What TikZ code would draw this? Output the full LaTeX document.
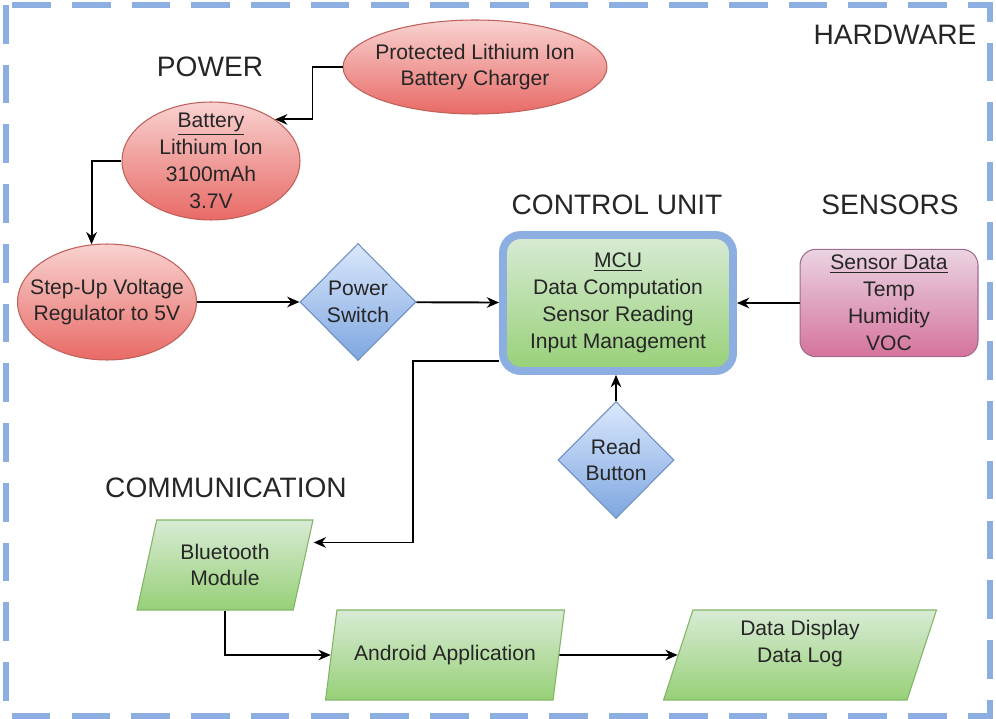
\documentclass[tikz,border=0pt]{standalone}
\usepackage{fontspec}
\setmainfont{Liberation Sans}
\usepackage{tikz}
\usetikzlibrary{shapes.geometric,arrows.meta}

\definecolor{redtop}{HTML}{F8D2D0}
\definecolor{redbot}{HTML}{E86A66}
\definecolor{redline}{HTML}{C0605A}
\definecolor{bluetop}{HTML}{DAE8FC}
\definecolor{bluebot}{HTML}{7EA6E0}
\definecolor{blueline}{HTML}{6C8EBF}
\definecolor{greentop}{HTML}{D8EBD5}
\definecolor{greenbot}{HTML}{97D077}
\definecolor{greenline}{HTML}{82B366}
\definecolor{pinktop}{HTML}{EAD4E2}
\definecolor{pinkbot}{HTML}{D5739D}
\definecolor{pinkline}{HTML}{A06A8C}
\definecolor{hwblue}{HTML}{8DAEE0}

\begin{document}
\begin{tikzpicture}[x=0.02cm, y=-0.02cm, >={Stealth[length=7pt,width=6pt]}, line width=1.1pt,
    font=\fontsize{12}{15.3}\selectfont, text=black!85,
    title/.style={font=\fontsize{16}{19}\selectfont},
    red ellipse/.style={ellipse, draw=redline, line width=0.6pt, top color=redtop, bottom color=redbot, inner xsep=-14pt, inner ysep=-10pt, align=center},
    blue diamond/.style={diamond, draw=blueline, line width=0.6pt, top color=bluetop, bottom color=bluebot, aspect=1, inner sep=-4pt, minimum width=2.32cm, minimum height=2.34cm, align=center},
    green para/.style={trapezium, trapezium left angle=70, trapezium right angle=110, trapezium stretches body, draw=greenline, line width=0.6pt, top color=greentop, bottom color=greenbot, minimum height=1.8cm, align=center},
    mcu box/.style={rectangle, rounded corners=10pt, draw=hwblue, line width=4.5pt, top color=greentop, bottom color=greenbot, minimum width=4.6cm, minimum height=2.72cm, align=center},
    sensor box/.style={rectangle, rounded corners=9pt, draw=pinkline, line width=0.6pt, top color=pinktop, bottom color=pinkbot, minimum width=3.56cm, minimum height=2.12cm, align=center},
    hw border/.style={draw=hwblue, line width=3.4pt, dash pattern=on 22pt off 12pt}]
    \useasboundingbox (0,0) rectangle (996,719);
    % dashed hardware frame
    \draw [hw border] (6,5) rectangle (990,716);
    \node at (895,35) [title] (hardware) {HARDWARE};
    \node at (210,67) [title] (power) {POWER};
    \node at (617,205) [title] (control unit) {CONTROL UNIT};
    \node at (890,205) [title] (sensors) {SENSORS};
    \node at (226,488) [title] (communication) {COMMUNICATION};

    \node at (475,67) [red ellipse, minimum width=5.28cm, minimum height=1.88cm] (charger) {Protected Lithium Ion\\Battery Charger};
    \node at (211,161) [red ellipse, minimum width=3.56cm, minimum height=2.36cm] (battery) {\underline{Battery}\\Lithium Ion\\3100mAh\\3.7V};
    \node at (107,302) [red ellipse, minimum width=3.58cm, minimum height=2.32cm] (regulator) {Step-Up Voltage\\Regulator to 5V};
    \node at (358,302) [blue diamond] (power switch) {Power\\Switch};
    \node at (618,303) [mcu box] (mcu) {\underline{MCU}\\Data Computation\\Sensor Reading\\Input Management};
    \node at (889,303) [sensor box] (sensor data) {\underline{Sensor Data}\\Temp\\Humidity\\VOC};
    \node at (616,460) [blue diamond] (read button) {Read\\Button};
    \node at (225,565) [green para, minimum width=3.52cm] (bluetooth) {Bluetooth\\Module};
    \node at (445,655) [green para, minimum width=4.78cm] (android) {Android Application};
    \node at (800,655) [green para, minimum width=5.46cm] (data display) {Data Display\\Data Log\\\mbox{}};

    % power chain
    \draw [->] (charger.west) -- ++(-30,0) |- (battery.33);
    \draw [->] (battery.west) -| (regulator.105);
    \draw [->] (regulator) -- (power switch);
    \draw [->] (power switch) -- (mcu);
    % inputs to the mcu
    \draw [->] (sensor data) -- (mcu);
    \draw [->] (read button.north) -- (read button.north |- mcu.south);
    % mcu out to bluetooth, then on to the phone
    \draw [->] ([yshift=0.28cm]mcu.south west) -- ++(-86,0) |- ([yshift=-0.46cm]bluetooth.top right corner);
    \draw [->] (bluetooth.south) |- (android);
    \draw [->] (android) -- (data display);
\end{tikzpicture}
\end{document}
